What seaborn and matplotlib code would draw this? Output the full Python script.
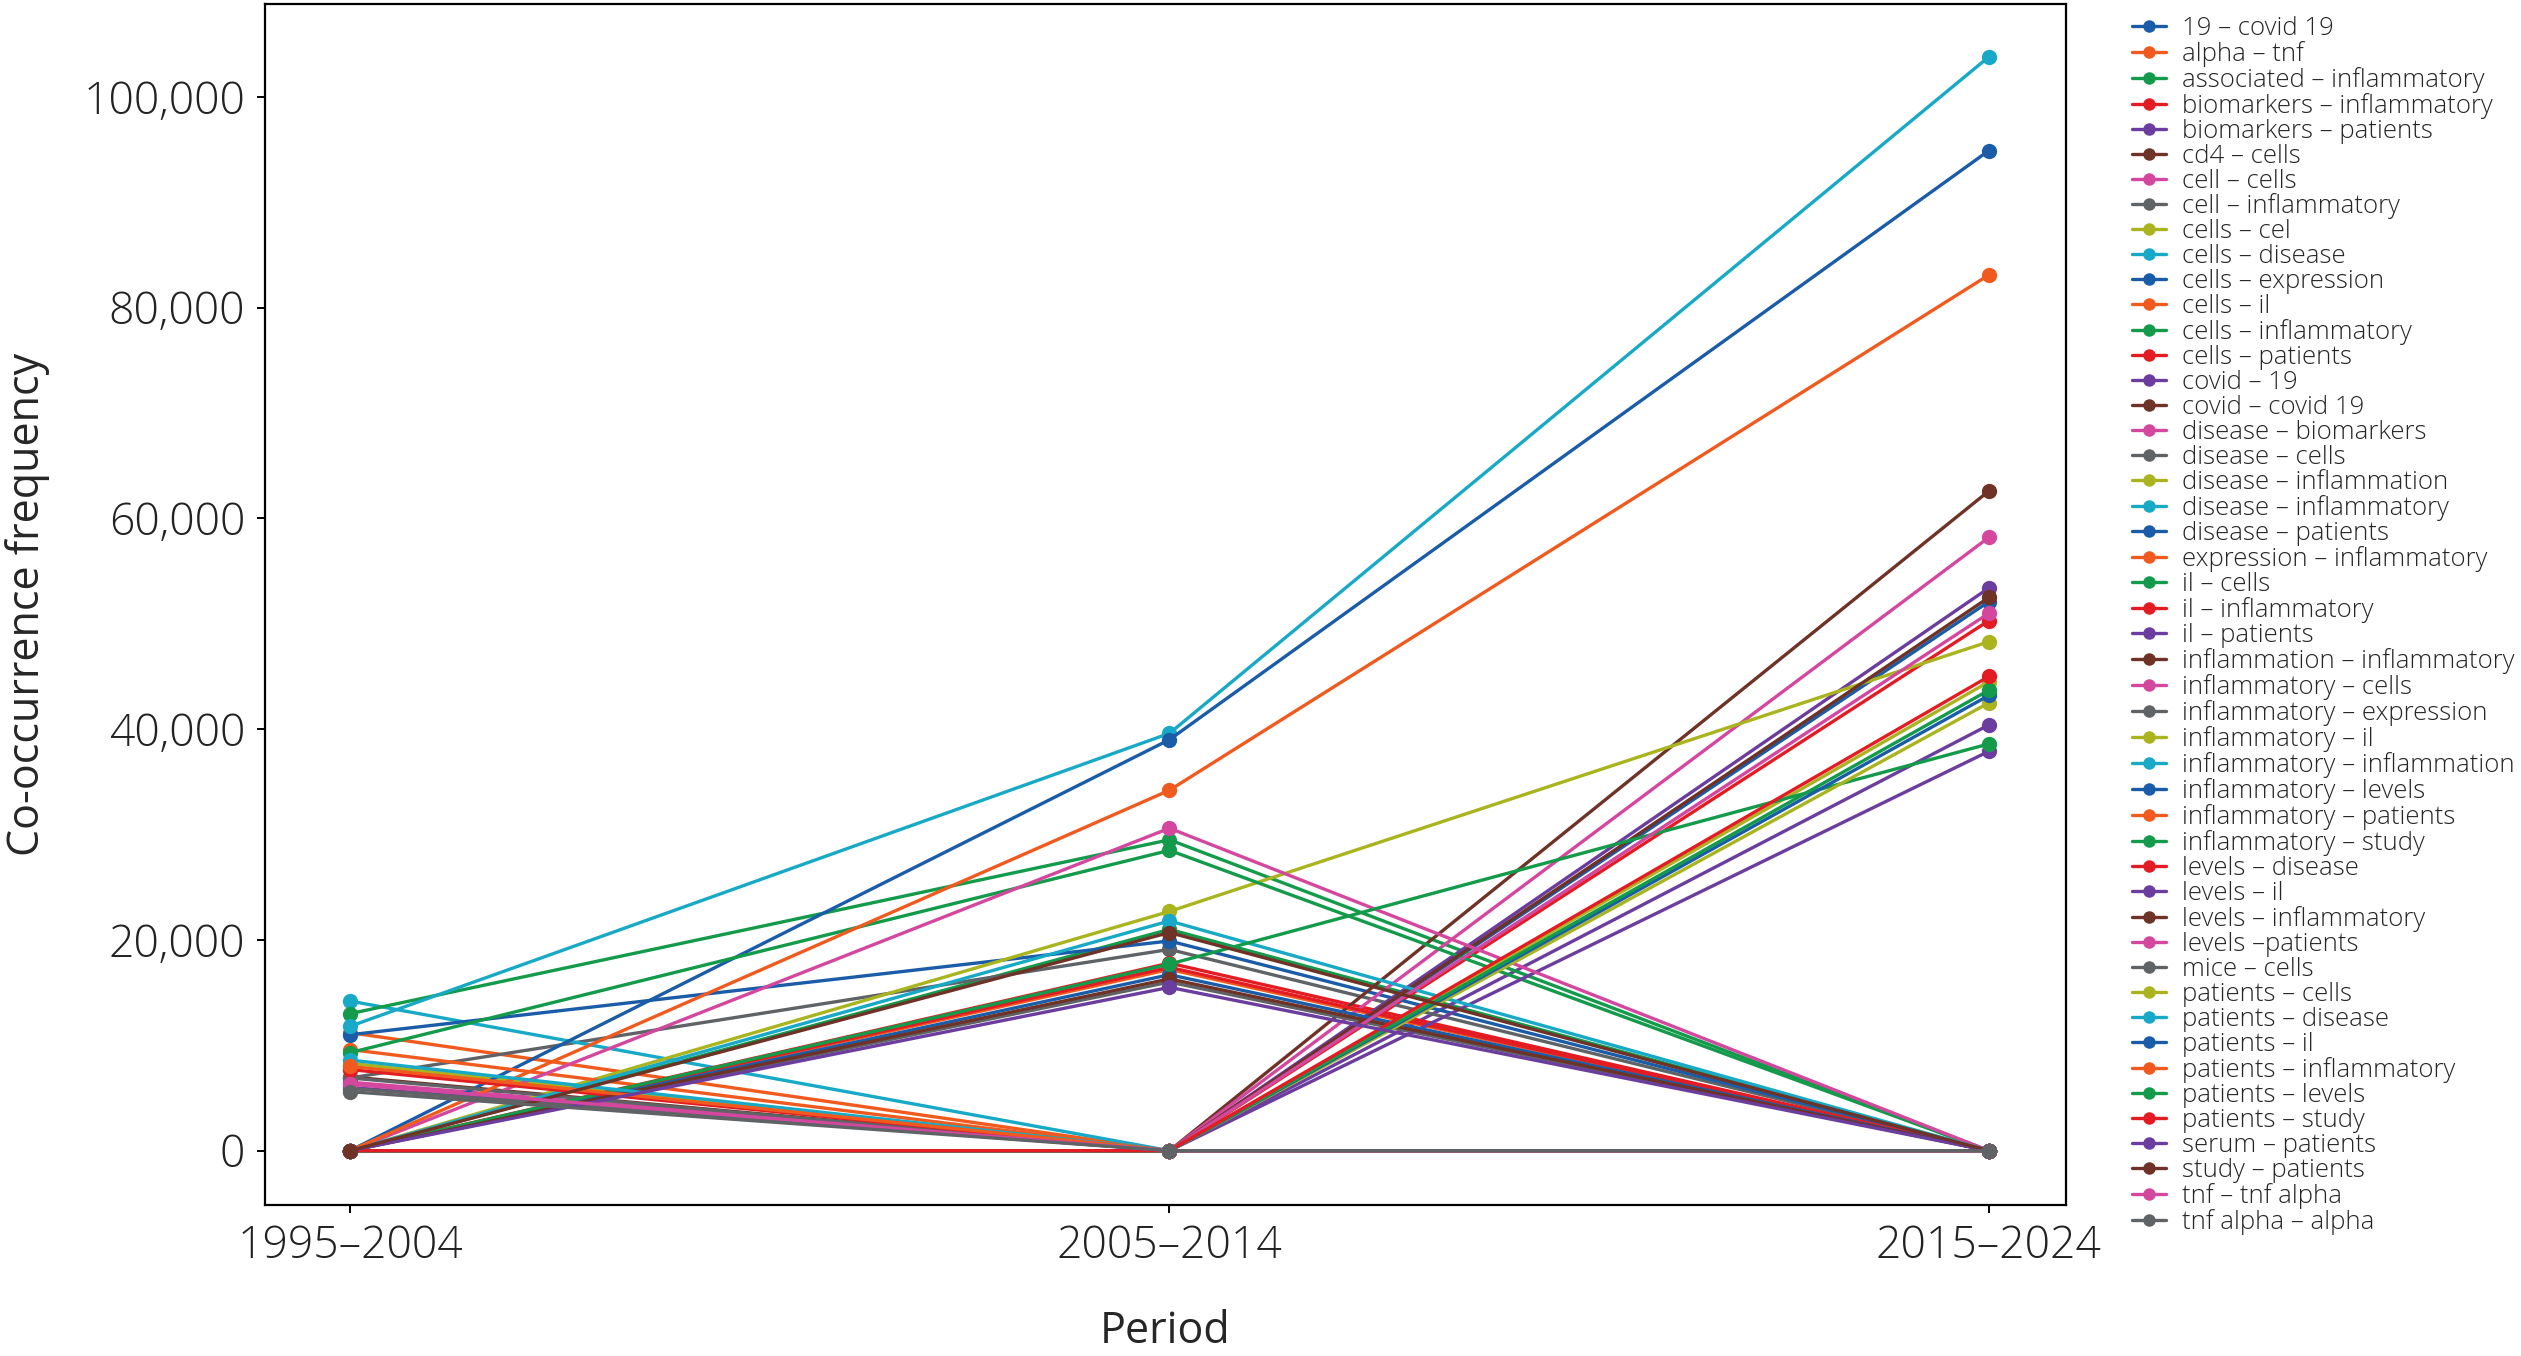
import matplotlib
matplotlib.use("Agg")
import matplotlib.pyplot as plt
import seaborn as sns
import pandas as pd
from matplotlib.ticker import FuncFormatter

# ---------------- data ----------------
periods = ["1995–2004", "2005–2014", "2015–2024"]

pairs = [
    "19 – covid 19", "alpha – tnf", "associated – inflammatory", "biomarkers – inflammatory",
    "biomarkers – patients", "cd4 – cells", "cell – cells", "cell – inflammatory",
    "cells – cel", "cells – disease", "cells – expression", "cells – il",
    "cells – inflammatory", "cells – patients", "covid – 19", "covid – covid 19",
    "disease – biomarkers", "disease – cells", "disease – inflammation", "disease – inflammatory",
    "disease – patients", "expression – inflammatory", "il – cells", "il – inflammatory",
    "il – patients", "inflammation – inflammatory", "inflammatory – cells", "inflammatory – expression",
    "inflammatory – il", "inflammatory – inflammation", "inflammatory – levels", "inflammatory – patients",
    "inflammatory – study", "levels – disease", "levels – il", "levels – inflammatory",
    "levels –patients", "mice – cells", "patients – cells", "patients – disease",
    "patients – il", "patients – inflammatory", "patients – levels", "patients – study",
    "serum – patients", "study – patients", "tnf – tnf alpha", "tnf alpha – alpha",
]

freq_1995_2004 = [
    0, 11200, 0, 0,
    0, 7000, 6500, 6900,
    8300, 14200, 11000, 0,
    13000, 0, 0, 0,
    0, 0, 0, 11800,
    0, 9600, 9300, 0,
    0, 0, 0, 6900,
    0, 0, 0, 0,
    0, 7700, 6000, 0,
    0, 5900, 0, 8600,
    0, 8000, 0, 0,
    0, 0, 6300, 5600,
]

freq_2005_2014 = [
    0, 0, 21000, 0,
    0, 0, 0, 19100,
    0, 0, 19900, 17200,
    29500, 17800, 0, 0,
    0, 16000, 22700, 39600,
    39000, 0, 28500, 17400,
    0, 0, 30600, 0,
    0, 21800, 16700, 34200,
    17700, 0, 0, 16300,
    0, 0, 0, 0,
    0, 0, 0, 0,
    15500, 20700, 0, 0,
]

freq_2015_2024 = [
    52100, 0, 0, 50300,
    40400, 0, 0, 0,
    0, 0, 0, 0,
    0, 0, 53400, 62600,
    58200, 0, 48300, 103800,
    94900, 0, 0, 0,
    37900, 52500, 0, 0,
    44500, 0, 0, 83100,
    38600, 0, 0, 0,
    51000, 0, 42500, 0,
    43200, 0, 43700, 45000,
    0, 0, 0, 0,
]

base_colors = ["#1a5ca8", "#f05a1e", "#139a4a", "#e31c24", "#6b3d9e",
               "#6e3226", "#d3479e", "#5f6366", "#a9b41f", "#17a9c6"]

# ---------------- build table ----------------
rows = []
for name, a, b, c in zip(pairs, freq_1995_2004, freq_2005_2014, freq_2015_2024):
    for per, v in zip(periods, (a, b, c)):
        rows.append({"Pair": name, "Period": per, "Frequency": v})
df = pd.DataFrame(rows)
palette = {name: base_colors[i % 10] for i, name in enumerate(pairs)}

sns.set_style("ticks")
plt.rcParams["font.family"] = ["Open Sans", "DejaVu Sans"]
plt.rcParams["font.weight"] = "light"

fig = plt.figure(figsize=(25.21, 13.56), dpi=100)
ax = fig.add_axes([0.105, 0.111, 0.7145, 0.886])

sns.lineplot(data=df, x="Period", y="Frequency", hue="Pair", hue_order=pairs,
             palette=palette, marker="o", markersize=11, markeredgewidth=0,
             linewidth=2.4, sort=False, ax=ax, legend=True)

ax.set_xlim(-0.104, 2.094)
ax.set_ylim(-5200, 108800)
ax.set_yticks([0, 20000, 40000, 60000, 80000, 100000])
ax.yaxis.set_major_formatter(FuncFormatter(lambda v, p: f"{int(v):,}"))

for s in ax.spines.values():
    s.set_visible(True)
    s.set_color("black")
    s.set_linewidth(1.6)

ax.tick_params(axis="both", labelsize=32, length=6, width=1.4, color="black",
               labelcolor="#222222", pad=8)
ax.set_xlabel("Period", fontsize=31, labelpad=29)
ax.set_ylabel("Co-occurrence frequency", fontsize=31, labelpad=24)

leg = ax.legend(loc="upper left", bbox_to_anchor=(0.8455, 0.9885),
                bbox_transform=fig.transFigure, frameon=False,
                fontsize=18.5, labelspacing=0.0, handlelength=1.35,
                handletextpad=0.6, borderaxespad=0, borderpad=0)
for h in leg.get_lines():
    h.set_linewidth(2.4)
    h.set_markersize(9)

fig.savefig("out.png", dpi=100)
